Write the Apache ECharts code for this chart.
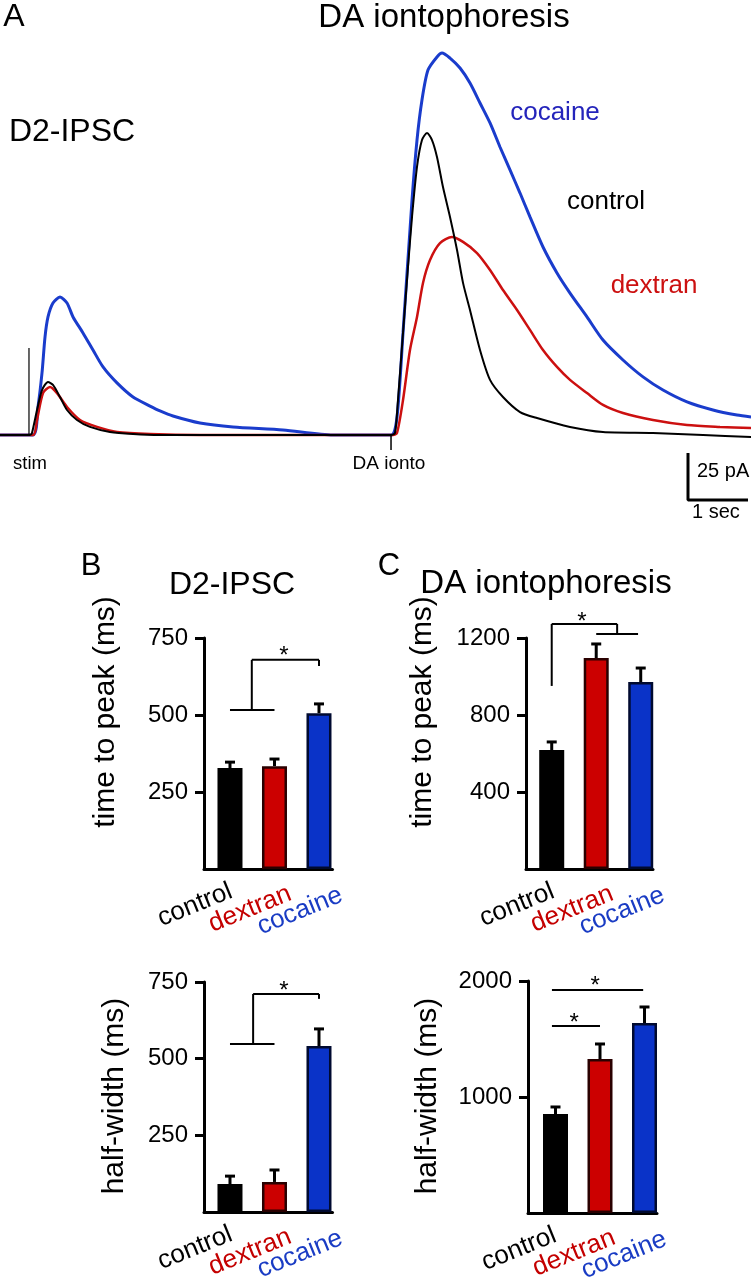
<!DOCTYPE html>
<html>
<head>
<meta charset="utf-8">
<script src="https://cdn.jsdelivr.net/npm/echarts@6/dist/echarts.min.js"></script>
<style>
html,body{margin:0;padding:0;background:#fff;}
#chart{width:751px;height:1280px;}
</style>
</head>
<body>
<div id="chart"></div>
<script>
// ---------------- DATA ----------------
// Panel A traces: [time (s), current (pA)]
const cocaineTrace = [[0,0],[0.55,0],[0.633,14.9],[0.7,33.0],[0.75,52.1],[0.8,62.8],[0.883,70.2],[1.0,73.4],[1.117,70.2],[1.217,62.8],[1.383,54.3],[1.55,45.2],[1.717,36.2],[1.95,27.7],[2.217,20.2],[2.5,15.4],[2.667,12.8],[2.883,10.1],[3.333,6.4],[3.883,4.3],[4.717,2.7],[5.55,0],[6.517,0],[6.617,9.6],[6.717,54.3],[6.867,125.0],[6.95,156.9],[7.033,178.2],[7.133,194.1],[7.283,201.1],[7.367,203.2],[7.5,200.5],[7.667,195.2],[7.833,187.2],[8.0,176.6],[8.167,166.0],[8.333,153.2],[8.5,141.0],[8.667,128.7],[8.833,116.0],[9.05,100.0],[9.283,86.2],[9.5,75.5],[9.783,62.8],[10.05,50.5],[10.383,39.9],[10.717,30.9],[11.05,23.9],[11.45,17.6],[11.883,13.3],[12.283,10.6],[12.517,9.6]];
const dextranTrace = [[0,0],[0.55,0],[0.617,8.0],[0.717,22.3],[0.833,25.5],[0.95,22.3],[1.117,14.9],[1.333,8.0],[1.617,4.3],[1.95,1.6],[2.5,0.5],[3.333,0],[6.55,0],[6.617,1.1],[6.717,18.6],[6.833,45.2],[6.95,62.8],[7.05,80.9],[7.167,93.1],[7.333,102.1],[7.533,105.3],[7.717,102.7],[7.95,96.8],[8.167,87.8],[8.383,77.1],[8.617,66.5],[8.833,55.9],[9.05,45.2],[9.283,36.2],[9.5,29.3],[9.783,22.3],[10.05,16.0],[10.383,11.7],[10.883,8.0],[11.45,5.3],[12.0,4.3],[12.517,3.7]];
const controlTrace = [[0,0],[0.5,0],[0.533,1.1],[0.617,13.3],[0.7,23.9],[0.8,28.2],[0.883,26.6],[1.0,20.2],[1.117,13.3],[1.283,8.0],[1.5,4.3],[1.833,1.6],[2.217,0.5],[2.667,0],[6.517,0],[6.583,1.1],[6.633,18.6],[6.717,54.3],[6.8,89.4],[6.867,116.0],[6.95,142.6],[7.033,156.9],[7.117,160.6],[7.2,156.9],[7.283,147.9],[7.383,131.9],[7.5,116.0],[7.617,98.4],[7.717,80.9],[7.833,66.5],[8.0,45.2],[8.167,29.3],[8.383,20.2],[8.667,12.2],[8.95,9.0],[9.5,4.3],[10.05,1.6],[10.883,1.1],[11.717,0],[12.517,-1.1]];
const stimArtifact = [[0.483,0],[0.483,46.3]];
const daIontoMark = [[6.517,0],[6.517,-8]];
const scaleBarAmp = 25;   // pA
const scaleBarTime = 1;   // s

// Panels B/C
const groups = ['control', 'dextran', 'cocaine'];
const ttpIPSC = [328, 334, 506];
const ttpIPSCErr = [19, 23, 30];
const ttpIonto = [618, 1096, 971];
const ttpIontoErr = [42, 73, 73];
const hwIPSC = [91, 98, 541];
const hwIPSCErr = [26, 39, 56];
const hwIonto = [853, 1327, 1638];
const hwIontoErr = [61, 130, 138];
const ticksIPSC = [250, 500, 750];
const ticksTtpIonto = [400, 800, 1200];
const ticksHwIonto = [1000, 2000];
const bracketsTtpIPSC = [[[0,516],[1,516]], [[0.49,516],[0.49,679]], [[0.49,679],[2,679]], [[2,679],[2,659]]];
const starsTtpIPSC = [[1.21,711]];
const bracketsTtpIonto = [[[0,951],[0,1273]], [[0,1273],[1.47,1273]], [[1.47,1273],[1.47,1221]], [[1,1221],[1.94,1221]]];
const starsTtpIonto = [[0.68,1314]];
const bracketsHwIPSC = [[[0,548],[1,548]], [[0.52,548],[0.52,711]], [[0.52,711],[2,711]], [[2,711],[2,695]]];
const starsHwIPSC = [[1.21,740]];
const bracketsHwIonto = [[[-0.08,1922],[1.97,1922]], [[-0.08,1612],[1.0,1612]]];
const starsHwIonto = [[0.89,2008],[0.42,1690]];

// ---------------- STYLE / LAYOUT ----------------
const FONT = '"Liberation Sans", Arial, Helvetica, sans-serif';
const barColors = ['#000000', '#cc0000', '#0a33c8'];
const barBorders = ['#000000', '#2a0000', '#000a30'];
const labelColors = ['#000000', '#c40000', '#1a3cc4'];
const traceColors = {cocaine:'#1a3ccc', dextran:'#cc1010', control:'#000000'};
const BAR_SPACING = 44.5;

const panels = [
  {grid:{left:204, top:638, width:128.5, height:231}, xMin:-0.584, yMax:750, ticks:ticksIPSC, means:ttpIPSC, errs:ttpIPSCErr, brackets:bracketsTtpIPSC, stars:starsTtpIPSC, title:'time to peak (ms)', titlePos:[106,712]},
  {grid:{left:526, top:638, width:127, height:231}, xMin:-0.578, yMax:1200, ticks:ticksTtpIonto, means:ttpIonto, errs:ttpIontoErr, brackets:bracketsTtpIonto, stars:starsTtpIonto, title:'time to peak (ms)', titlePos:[423,712]},
  {grid:{left:204, top:982, width:128.5, height:230}, xMin:-0.584, yMax:750, ticks:ticksIPSC, means:hwIPSC, errs:hwIPSCErr, brackets:bracketsHwIPSC, stars:starsHwIPSC, title:'half-width (ms)', titlePos:[115,1096]},
  {grid:{left:528, top:981, width:129, height:232}, xMin:-0.618, yMax:2000, ticks:ticksHwIonto, means:hwIonto, errs:hwIontoErr, brackets:bracketsHwIonto, stars:starsHwIonto, title:'half-width (ms)', titlePos:[428,1096]}
];
const catLabelOffsets = [[-9,36],[46,40],[96,42]];

function txt(text, x, y, size, color, rot, align) {
  return {type:'text', x:x, y:y, rotation:rot||0, silent:true, z:100,
    style:{text:text, fontSize:size, fontFamily:FONT, fill:color,
      align:align||'center', verticalAlign:'middle', textAlign:align||'center', textVerticalAlign:'middle'}};
}

const grids = [{left:0, top:40.2, width:751, height:479.4}];
const xAxes = [{type:'value', gridIndex:0, min:0, max:751/60, show:false}];
const yAxes = [{type:'value', gridIndex:0, min:-45, max:210, show:false}];
const series = [];
function traceSeries(data, color, width, z, smooth) {
  return {type:'line', xAxisIndex:0, yAxisIndex:0, data:data, showSymbol:false, symbol:'none',
    smooth:smooth, lineStyle:{color:color, width:width}, z:z, silent:true};
}
series.push(traceSeries(cocaineTrace, traceColors.cocaine, 3, 2, 0.25));
series.push(traceSeries(dextranTrace, traceColors.dextran, 2.5, 3, 0.25));
series.push(traceSeries(controlTrace, traceColors.control, 2, 4, 0.25));
series.push(traceSeries(stimArtifact, '#000', 1.2, 4, false));
series.push(traceSeries(daIontoMark, '#000', 1.5, 4, false));
const sbX = 751/60 - 0.05 - scaleBarTime, sbY = -34.6;
series.push(traceSeries([[sbX, sbY + scaleBarAmp],[sbX, sbY],[sbX + scaleBarTime, sbY]], '#000', 3, 5, false));

const graphics = [
  txt('A', 14, 17, 32, '#000'),
  txt('DA iontophoresis', 444, 18, 33, '#000'),
  txt('D2-IPSC', 72, 132, 32, '#000'),
  txt('cocaine', 555, 113, 26, '#2424bb'),
  txt('control', 606, 202, 26, '#000'),
  txt('dextran', 654, 286, 26, '#cc1010'),
  txt('stim', 30, 464, 18.5, '#000'),
  txt('DA ionto', 389, 464, 19, '#000'),
  txt(scaleBarAmp + ' pA', 697, 471, 20, '#000', 0, 'left'),
  txt(scaleBarTime + ' sec', 692, 512, 20, '#000', 0, 'left'),
  txt('B', 91, 566, 31, '#000'),
  txt('C', 389, 566, 31, '#000'),
  txt('D2-IPSC', 232, 585, 32, '#000'),
  txt('DA iontophoresis', 546, 584, 33, '#000')
];

function bracketRender(params, api) {
  const a = api.coord([api.value(0), api.value(1)]);
  const b = api.coord([api.value(2), api.value(3)]);
  return {type:'line', shape:{x1:a[0], y1:a[1], x2:b[0], y2:b[1]}, style:{stroke:'#000', lineWidth:2}};
}
function starRender(params, api) {
  const a = api.coord([api.value(0), api.value(1)]);
  return {type:'text', x:a[0], y:a[1] + 6, style:{text:'*', fontSize:24, fontFamily:FONT, fill:'#000',
    align:'center', verticalAlign:'middle', textAlign:'center', textVerticalAlign:'middle'}};
}

panels.forEach(function(p, i) {
  const gi = i + 1;
  grids.push(p.grid);
  xAxes.push({type:'value', gridIndex:gi, min:p.xMin, max:p.xMin + p.grid.width / BAR_SPACING,
    axisLine:{show:true, onZero:false, lineStyle:{color:'#000', width:3}},
    axisTick:{show:false}, axisLabel:{show:false}, splitLine:{show:false}});
  yAxes.push({type:'value', gridIndex:gi, min:0, max:p.yMax,
    axisLine:{show:true, onZero:false, lineStyle:{color:'#000', width:3}},
    axisTick:{show:true, length:9, customValues:p.ticks, lineStyle:{color:'#000', width:3}},
    axisLabel:{customValues:p.ticks, fontSize:24, fontFamily:FONT, color:'#000', margin:16,
      formatter:function(v){return String(v);}},
    splitLine:{show:false}});
  series.push({type:'bar', xAxisIndex:gi, yAxisIndex:gi, barWidth:25, silent:true,
    data:p.means.map(function(v,k){return {value:[k,v], itemStyle:{color:barColors[k], borderColor:barBorders[k], borderWidth:2.5}};})
  });
  series.push({type:'custom', xAxisIndex:gi, yAxisIndex:gi, z:3, silent:true, clip:false,
    data:p.means.map(function(v,k){return [k, v, p.errs[k]];}),
    renderItem:function(params, api){
      const x = api.value(0), m = api.value(1), e = api.value(2);
      const a = api.coord([x, m]), b = api.coord([x, m + e]);
      return {type:'group', children:[
        {type:'line', shape:{x1:a[0], y1:a[1], x2:b[0], y2:b[1]}, style:{stroke:'#000', lineWidth:3}},
        {type:'line', shape:{x1:b[0]-5, y1:b[1], x2:b[0]+5, y2:b[1]}, style:{stroke:'#000', lineWidth:3}}
      ]};
    }});
  series.push({type:'custom', xAxisIndex:gi, yAxisIndex:gi, z:4, silent:true, clip:false,
    data:p.brackets.map(function(s){return [s[0][0], s[0][1], s[1][0], s[1][1]];}),
    renderItem:bracketRender});
  series.push({type:'custom', xAxisIndex:gi, yAxisIndex:gi, z:4, silent:true, clip:false,
    data:p.stars, renderItem:starRender});
  graphics.push(txt(p.title, p.titlePos[0], p.titlePos[1], 30, '#000', Math.PI/2));
  const bx = p.grid.left, by = p.grid.top + p.grid.height;
  groups.forEach(function(g, k){
    graphics.push(txt(g, bx + catLabelOffsets[k][0], by + catLabelOffsets[k][1], 26, labelColors[k], 22*Math.PI/180));
  });
});

const chart = echarts.init(document.getElementById('chart'), null, {renderer:'canvas'});
chart.setOption({
  animation:false,
  backgroundColor:'#ffffff',
  grid:grids, xAxis:xAxes, yAxis:yAxes, series:series,
  graphic:{elements:graphics}
});
</script>
</body>
</html>
